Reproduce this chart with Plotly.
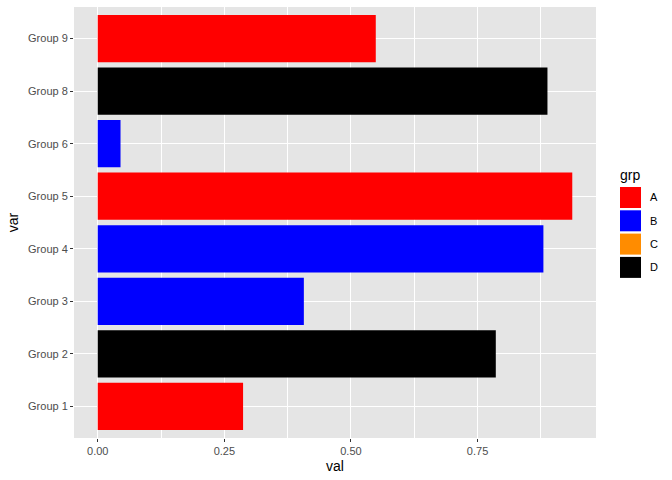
import plotly.graph_objects as go

categories = ["Group 1", "Group 2", "Group 3", "Group 4", "Group 5", "Group 6", "Group 8", "Group 9"]
values = [0.287, 0.786, 0.407, 0.880, 0.937, 0.045, 0.888, 0.549]
groups = ["A", "D", "B", "B", "A", "B", "D", "A"]
legend_groups = ["A", "B", "C", "D"]
colors = {"A": "#FF0000", "B": "#0000FF", "C": "#FF8C00", "D": "#000000"}
x_ticks = [0.0, 0.25, 0.5, 0.75]
x_ticklabels = ["0.00", "0.25", "0.50", "0.75"]

fig = go.Figure()
for g in legend_groups:
    ys = [c for c, gg in zip(categories, groups) if gg == g]
    xs = [v for v, gg in zip(values, groups) if gg == g]
    if not xs:
        continue
    fig.add_trace(go.Bar(x=xs, y=ys, orientation="h", width=0.9,
                         marker=dict(color=colors[g], line=dict(width=0)),
                         showlegend=False, name=g))

W, H = 672, 480
ML, MR, MT, MB = 74, 76, 7, 42
vmax = max(values)
span = vmax
fig.update_layout(
    width=W, height=H,
    margin=dict(l=ML, r=MR, t=MT, b=MB),
    paper_bgcolor="white", plot_bgcolor="#E5E5E5",
    barmode="overlay",
    font=dict(family="Liberation Sans, Arial, sans-serif"),
    xaxis=dict(range=[-0.05 * span, vmax + 0.05 * span],
               tickvals=x_ticks, ticktext=x_ticklabels,
               tickfont=dict(size=11, color="#4D4D4D"),
               ticks="outside", ticklen=3, tickcolor="#333333", tickwidth=1,
               showgrid=True, gridcolor="white", gridwidth=1.1,
               minor=dict(tickvals=[0.125, 0.375, 0.625, 0.875], showgrid=True,
                          gridcolor="white", gridwidth=0.5, ticks=""),
               zeroline=False, showline=False,
               title=dict(text="val", font=dict(size=14, color="black"), standoff=4)),
    yaxis=dict(categoryorder="array", categoryarray=categories,
               range=[-0.6, len(categories) - 0.4],
               tickfont=dict(size=11, color="#4D4D4D"),
               ticks="outside", ticklen=3, tickcolor="#333333", tickwidth=1,
               showgrid=True, gridcolor="white", gridwidth=1.1,
               zeroline=False, showline=False,
               title=dict(text="var", font=dict(size=14, color="black"), standoff=6)),
)

# manual ggplot-style legend (paper coords relative to plot area)
PW, PH = W - ML - MR, H - MT - MB
def px(x):
    return (x - ML) / PW
def py(y):
    return 1 - (y - MT) / PH

fig.add_annotation(x=px(618), y=py(175), xref="paper", yref="paper", text="grp",
                   showarrow=False, xanchor="left", yanchor="middle",
                   font=dict(size=14, color="black"))
for i, g in enumerate(legend_groups):
    top = 187 + i * 23.3
    fig.add_shape(type="rect", xref="paper", yref="paper",
                  x0=px(620), x1=px(641), y0=py(top), y1=py(top + 21),
                  fillcolor=colors[g], line=dict(width=0))
    fig.add_annotation(x=px(648), y=py(top + 10.5), xref="paper", yref="paper",
                       text=g, showarrow=False, xanchor="left", yanchor="middle",
                       font=dict(size=11, color="black"))

fig.write_html("out.html", config={"displayModeBar": False},
               post_script="document.body.style.margin='0';")
